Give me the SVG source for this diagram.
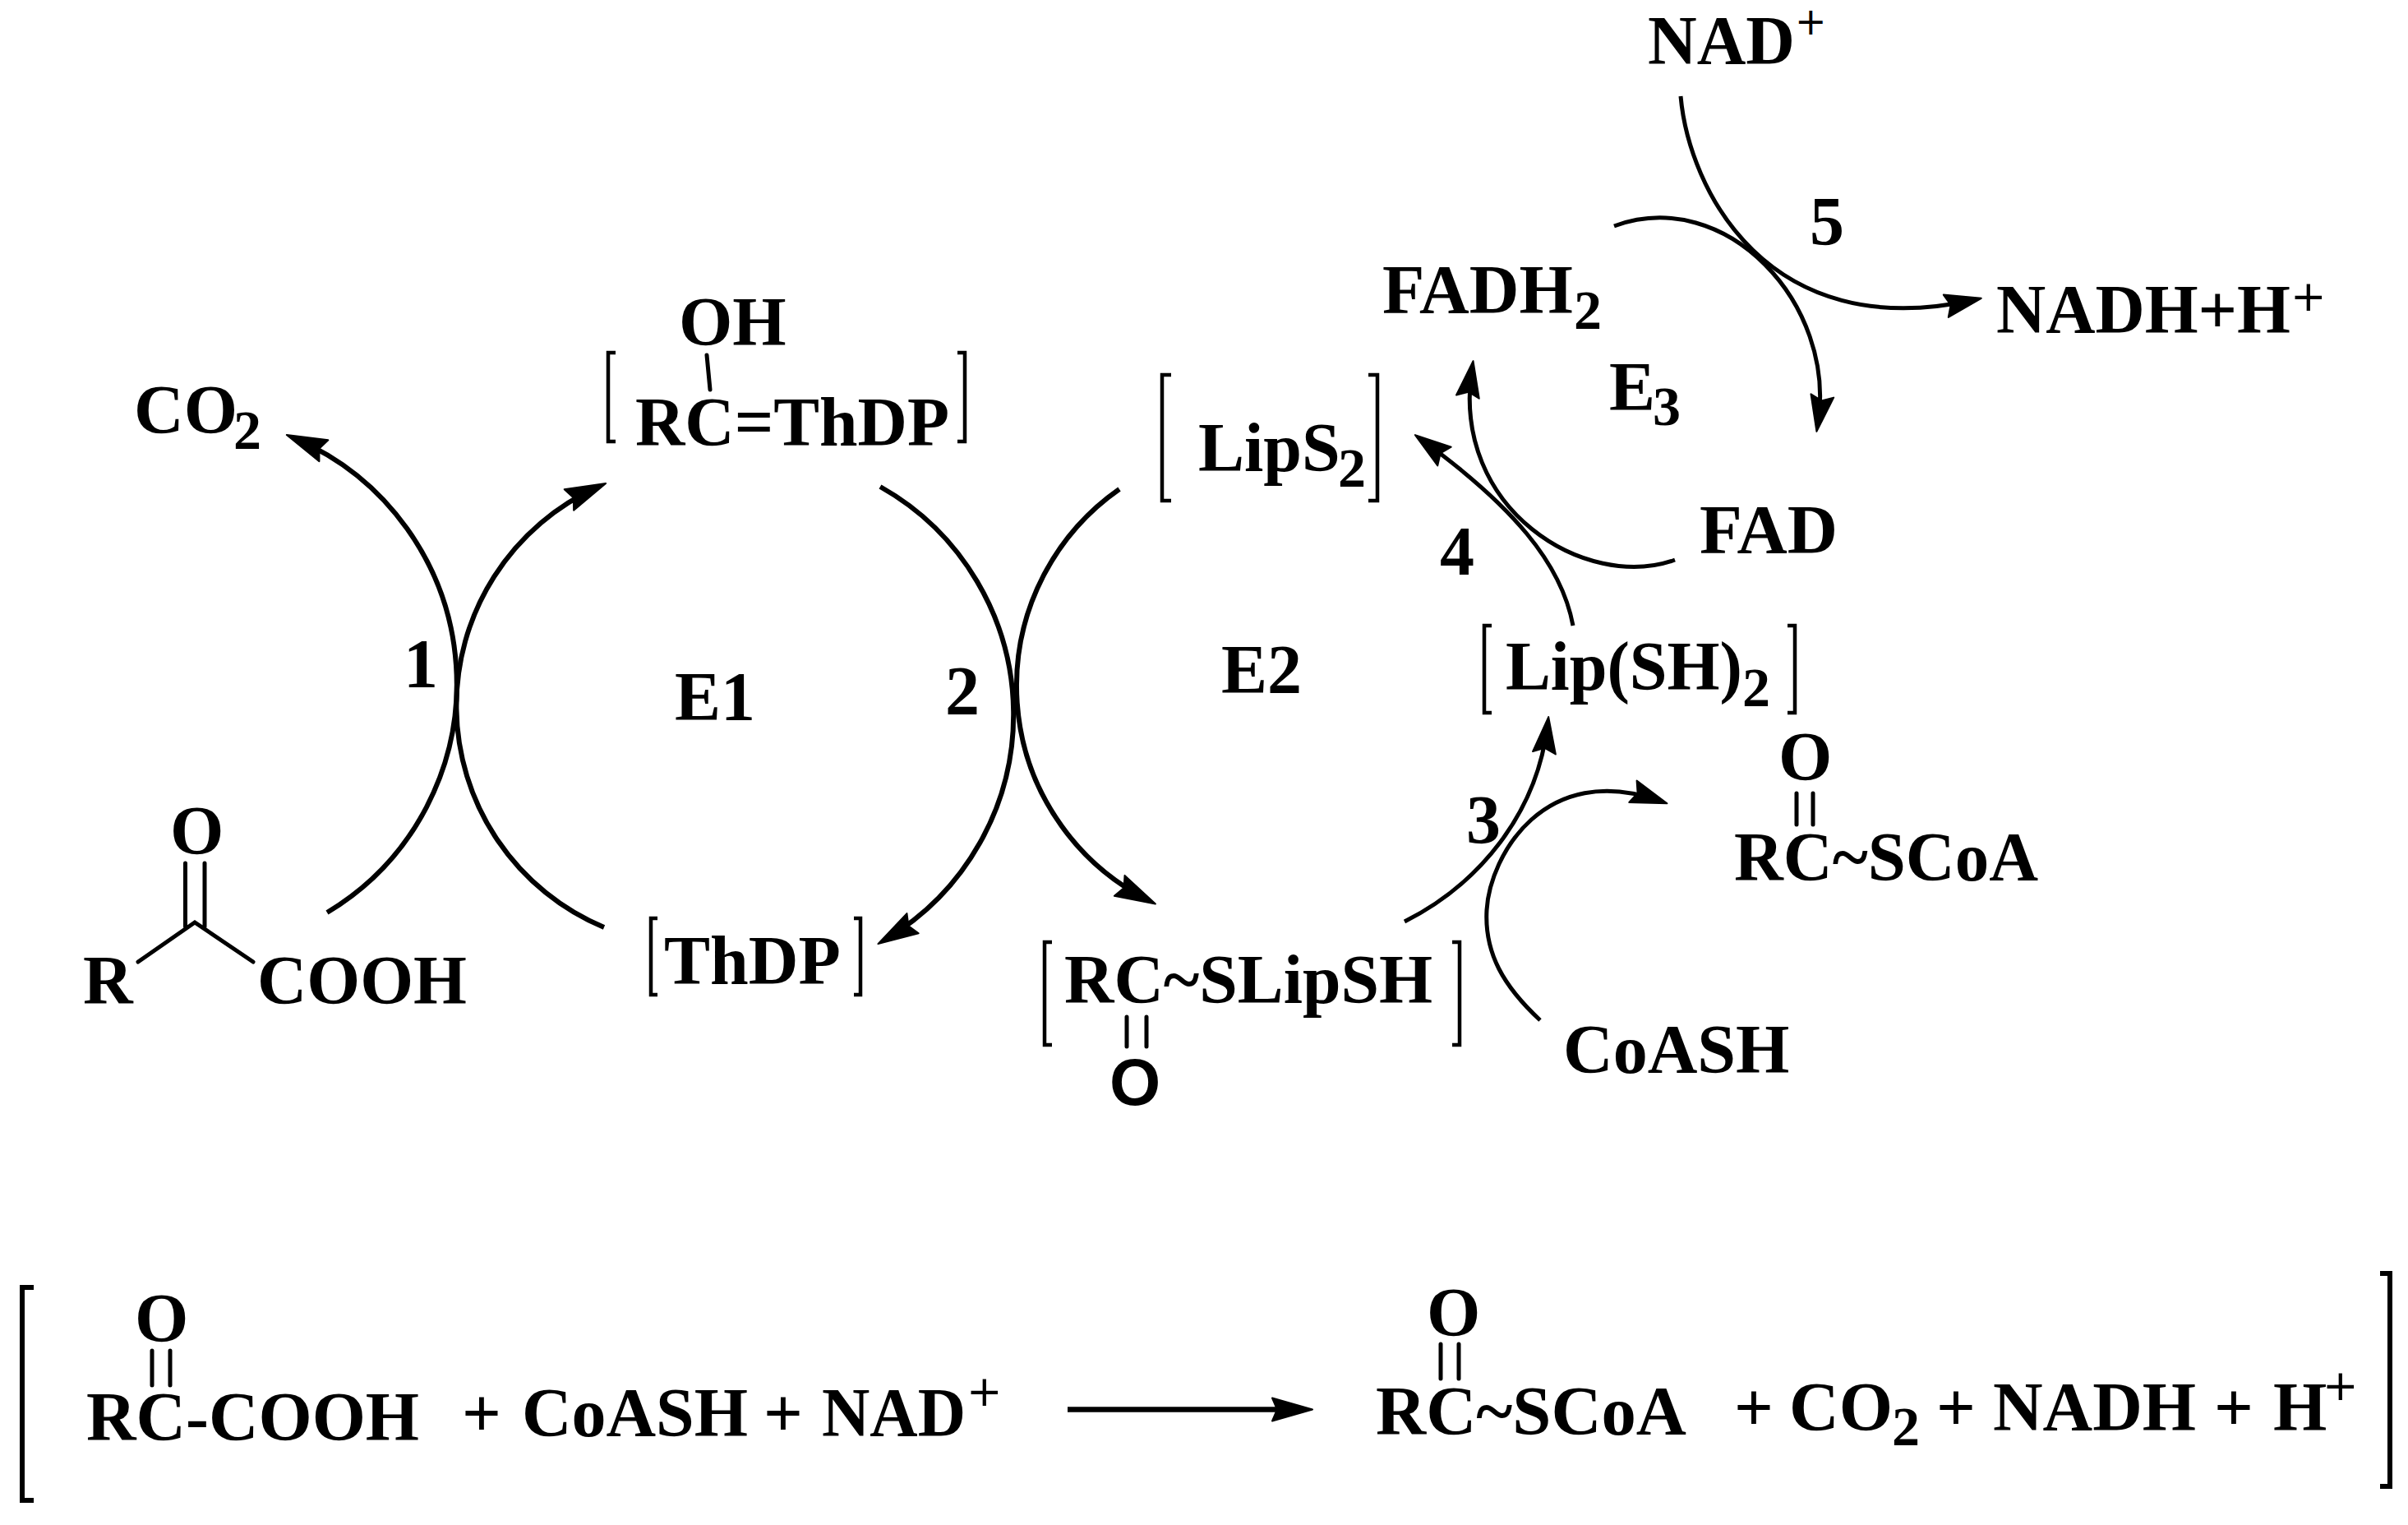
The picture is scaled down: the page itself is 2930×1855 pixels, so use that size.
<svg xmlns="http://www.w3.org/2000/svg" width="2930" height="1855" viewBox="0 0 2930 1855">
<style>
text{font-family:"Liberation Serif","Times New Roman",serif;font-weight:bold;font-size:84px;fill:#000}
.sub{font-size:68px}
.sup{font-family:"DejaVu Sans",sans-serif;font-size:52px;font-weight:normal}
.sans{font-family:"Liberation Sans",Arial,sans-serif;font-size:80px}
.br{fill:none;stroke:#000;stroke-width:4.5}
.bond{fill:none;stroke:#000;stroke-width:5;stroke-linecap:round}
.arc{fill:none;stroke:#000;stroke-width:6}
.arc2{fill:none;stroke:#000;stroke-width:5}
</style>
<defs>
<marker id="head" markerUnits="userSpaceOnUse" markerWidth="60" markerHeight="40" refX="44" refY="20" orient="auto"><path d="M54,20 L5,6 L11,20 L5,34 z" fill="#000" stroke="#000" stroke-width="2" stroke-linejoin="round"/></marker>
<marker id="head2" markerUnits="userSpaceOnUse" markerWidth="60" markerHeight="40" refX="44" refY="20" orient="auto"><path d="M54,20 L10,6 L16,20 L10,34 z" fill="#000" stroke="#000" stroke-width="2" stroke-linejoin="round"/></marker>
</defs>
<rect width="2930" height="1855" fill="#fff"/>
<g id="connectors">
<path class="arc" d="M398,1110 A324.400,324.400 0 0 0 358,533" marker-end="url(#head)"/>
<path class="arc" d="M735,1128 A292,292 0 0 1 728,592" marker-end="url(#head)"/>
<path class="arc" d="M1071,592 A318,318 0 0 1 1077,1143" marker-end="url(#head)"/>
<path class="arc" d="M1362,595 A292,292 0 0 0 1397,1095" marker-end="url(#head)"/>
<path class="arc2" d="M1709,1121 C1800,1075 1870,990 1883,882" marker-end="url(#head2)"/>
<path class="arc2" d="M1874,1241 C1830,1200 1806,1160 1809,1107 C1813,1040 1880,925 2019,974" marker-end="url(#head2)"/>
<path class="arc2" d="M1914,761 C1900,685 1840,615 1730,535" marker-end="url(#head2)"/>
<path class="arc2" d="M2038,681 C1930,720 1765,620 1791,449" marker-end="url(#head2)"/>
<path class="arc2" d="M2045,117 C2055,230 2150,420 2401,365" marker-end="url(#head2)"/>
<path class="arc2" d="M1964,275 C2100,225 2235,370 2212,515" marker-end="url(#head2)"/>
<path class="arc" d="M1299,1714.500 H1587" style="stroke-width:6.500" marker-end="url(#head)"/>
</g>
<g id="pyruvate">
<text x="207" y="1039">O</text>
<path class="bond" d="M225.500,1050 V1127 M249,1050 V1127 M168,1170 L237,1122 L308,1170"/>
<text x="101" y="1221">R</text>
<text x="313" y="1221" textLength="255" lengthAdjust="spacingAndGlyphs">COOH</text>
</g>
<g id="co2"><text x="163" y="527">CO</text><text class="sub" x="284" y="546">2</text></g>
<g id="hydroxy-thdp">
<text x="826" y="420">OH</text>
<path class="bond" d="M860,432 L864,474"/>
<path class="br" d="M749,429 H740 V537 H749 M1165,429 H1174 V537 H1165"/>
<text x="773" y="542" textLength="382" lengthAdjust="spacingAndGlyphs">RC=ThDP</text>
</g>
<g id="thdp">
<path class="br" d="M800,1117 H792 V1210 H800 M1039,1117 H1047 V1210 H1039"/>
<text x="808" y="1197">ThDP</text>
</g>
<g id="lips2">
<path class="br" d="M1425,456 H1414 V609 H1425 M1665,456 H1676 V609 H1665"/>
<text x="1458" y="573">LipS</text><text class="sub" x="1628" y="592">2</text>
</g>
<g id="acyl-lip">
<path class="br" d="M1280,1146 H1271 V1271 H1280 M1767,1146 H1776 V1271 H1767"/>
<text x="1295" y="1220" textLength="448" lengthAdjust="spacingAndGlyphs">RC~SLipSH</text>
<path class="bond" d="M1371,1237 V1273 M1395,1237 V1273"/>
<text class="sans" x="1350" y="1344">O</text>
</g>
<g id="lip-sh2">
<path class="br" d="M1815,761 H1806 V867 H1815 M2175,761 H2184 V867 H2175"/>
<text x="1832" y="839" textLength="288" lengthAdjust="spacingAndGlyphs">Lip(SH)</text><text class="sub" x="2120" y="859">2</text>
</g>
<g id="acyl-coa">
<text x="2164" y="949">O</text>
<path class="bond" d="M2186,965 V1003 M2206,965 V1003"/>
<text x="2110" y="1071" textLength="370" lengthAdjust="spacingAndGlyphs">RC~SCoA</text>
</g>
<g id="coash"><text x="1902" y="1305">CoASH</text></g>
<g id="fadh2"><text x="1682" y="381">FADH</text><text class="sub" x="1915" y="400">2</text></g>
<g id="fad"><text x="2068" y="673" textLength="168" lengthAdjust="spacingAndGlyphs">FAD</text></g>
<g id="nad"><text x="2005" y="78" textLength="179" lengthAdjust="spacingAndGlyphs">NAD</text><text class="sup" x="2184" y="42" style="font-size:46px">+</text></g>
<g id="nadh"><text x="2429" y="405" textLength="358" lengthAdjust="spacingAndGlyphs">NADH+H</text><text class="sup" x="2787" y="378">+</text></g>
<g id="labels">
<text x="491" y="836">1</text>
<text x="1150" y="869">2</text>
<text x="1784" y="1026">3</text>
<text x="1752" y="699">4</text>
<text x="2202" y="298">5</text>
<text x="821" y="876">E1</text>
<text x="1486" y="843">E2</text>
<text x="1958" y="499">E</text><text class="sub" x="2011" y="517">3</text>
</g>
<g id="overall">
<path class="br" style="stroke-width:6" d="M41,1566 H27 V1825 H41 M2896,1549 H2908 V1808 H2896"/>
<text x="164" y="1632">O</text>
<path class="bond" d="M185,1643 V1685 M207,1643 V1685"/>
<text x="105" y="1752" textLength="405" lengthAdjust="spacingAndGlyphs">RC-COOH</text>
<text x="562" y="1747">+</text>
<text x="635" y="1747" textLength="275" lengthAdjust="spacingAndGlyphs">CoASH</text>
<text x="929" y="1747">+</text>
<text x="1000" y="1747" textLength="175" lengthAdjust="spacingAndGlyphs">NAD</text>
<text class="sup" x="1176" y="1710">+</text>
<text x="1736" y="1625">O</text>
<path class="bond" d="M1753,1635 V1677 M1775,1635 V1677"/>
<text x="1674" y="1745" textLength="378" lengthAdjust="spacingAndGlyphs">RC~SCoA</text>
<text x="2110" y="1740">+</text>
<text x="2177" y="1740">CO</text><text class="sub" x="2302" y="1758">2</text>
<text x="2356" y="1740">+</text>
<text x="2425" y="1740" textLength="247" lengthAdjust="spacingAndGlyphs">NADH</text>
<text x="2694" y="1740">+</text>
<text x="2766" y="1740">H</text>
<text class="sup" x="2826" y="1703">+</text>
</g>
</svg>
